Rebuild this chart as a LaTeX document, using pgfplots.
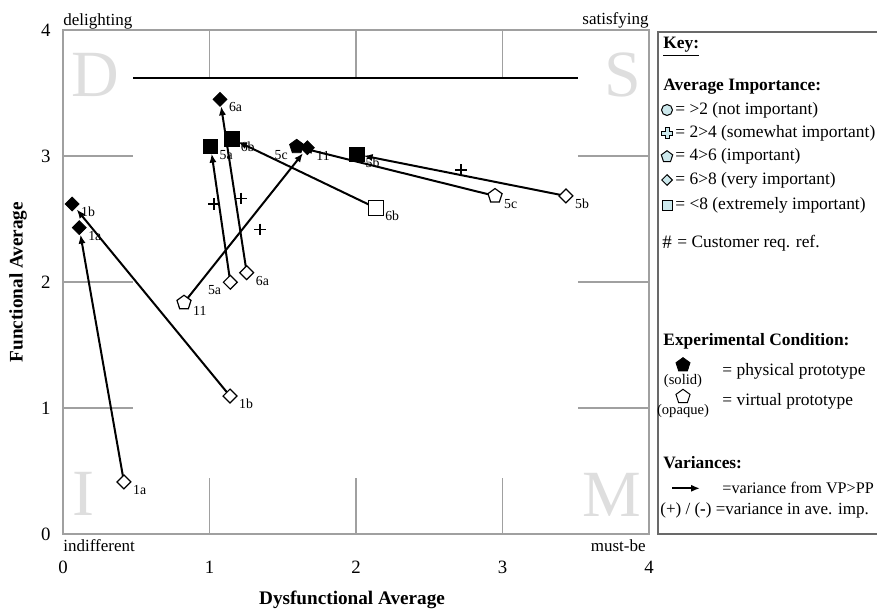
\documentclass[border=0pt]{standalone}
\usepackage{fontspec}
\setmainfont{Liberation Serif}
\usepackage{pgfplots}
\pgfplotsset{compat=1.18}
\usetikzlibrary{arrows.meta, shapes.geometric}

\definecolor{keyfill}{RGB}{204,232,236}
\definecolor{framegray}{RGB}{160,160,160}
\definecolor{keyborder}{RGB}{105,105,105}
\definecolor{bigletter}{RGB}{222,222,222}

\newcommand{\fs}[1]{\fontsize{#1pt}{#1pt}\selectfont}

\pgfplotsset{
  lblR/.style={nodes near coords, point meta=explicit symbolic,
    nodes near coords style={anchor=west, inner sep=0pt, xshift=4.3pt, yshift=-4pt, font=\fs{6.9}, text=black}},
  lblL/.style={nodes near coords, point meta=explicit symbolic,
    nodes near coords style={anchor=east, inner sep=0pt, xshift=-4.3pt, yshift=-4pt, font=\fs{6.9}, text=black}},
  arr/.style={black, line width=1pt, -{Latex[length=4.5pt,width=3.6pt]}, shorten >=3.5pt},
}

\begin{document}
\begin{tikzpicture}
\begin{axis}[
  at={(0pt,0pt)}, anchor=south west,
  scale only axis, width=293pt, height=252pt,
  xmin=0, xmax=4, ymin=0, ymax=4,
  xtick={0,1,2,3,4}, ytick={0,1,2,3,4},
  major tick length=0pt,
  axis line style={framegray, line width=0.75pt},
  tick label style={font=\fs{9.4}},
  /pgf/number format/assume math mode=true,
  xticklabel style={anchor=north, inner sep=0pt, yshift=-13.5pt},
  yticklabel style={anchor=east, inner sep=0pt, xshift=-6pt},
  clip=false,
]
% partial grid and inner top line
\draw[framegray, line width=0.6pt]
  (axis cs:1,4) -- (axis cs:1,3.619) (axis cs:2,4) -- (axis cs:2,3.619) (axis cs:3,4) -- (axis cs:3,3.619)
  (axis cs:1,0) -- (axis cs:1,0.444) (axis cs:2,0) -- (axis cs:2,0.444) (axis cs:3,0) -- (axis cs:3,0.444)
  (axis cs:0,1) -- (axis cs:0.478,1) (axis cs:0,2) -- (axis cs:0.478,2) (axis cs:0,3) -- (axis cs:0.478,3)
  (axis cs:3.515,1) -- (axis cs:4,1) (axis cs:3.515,2) -- (axis cs:4,2) (axis cs:3.515,3) -- (axis cs:4,3);
\draw[black, line width=0.75pt] (axis cs:0.478,3.619) -- (axis cs:3.515,3.619);

% quadrant letters
\node[text=bigletter, font=\fs{33}, inner sep=0pt] at (axis cs:0.218,3.643) {D};
\node[text=bigletter, font=\fs{33}, inner sep=0pt] at (axis cs:3.823,3.643) {S};
\node[text=bigletter, font=\fs{33}, inner sep=0pt] at (axis cs:0.137,0.317) {I};
\node[text=bigletter, font=\fs{33}, inner sep=0pt] at (axis cs:3.744,0.310) {M};

% corner labels
\node[anchor=base west, inner sep=0pt, font=\fs{8.5}, yshift=2.5pt] at (axis cs:0,4) {delighting};
\node[anchor=base east, inner sep=0pt, font=\fs{8.5}, yshift=3pt] at (axis cs:4,4) {satisfying};
\node[anchor=base west, inner sep=0pt, font=\fs{8.5}, yshift=-8.5pt] at (axis cs:0,0) {indifferent};
\node[anchor=base east, inner sep=0pt, font=\fs{8.5}, yshift=-8.5pt, xshift=-1.5pt] at (axis cs:4,0) {must-be};

% axis titles
\node[rotate=90, font=\fs{9.6}\bfseries] at ([xshift=-22.5pt]axis cs:0,2) {Functional Average};
\node[font=\fs{9.6}\bfseries] at ([yshift=-33pt]axis cs:1.973,0) {Dysfunctional Average};

% variance arrows: virtual prototype -> physical prototype
\addplot[arr] coordinates {(0.416,0.413) (0.111,2.431)}; % 1a
\addplot[arr] coordinates {(1.140,1.095) (0.063,2.619)}; % 1b
\addplot[arr] coordinates {(0.826,1.836) (1.668,3.066)}; % 11
\addplot[arr] coordinates {(1.142,1.998) (1.008,3.074)}; % 5a
\addplot[arr] coordinates {(1.254,2.074) (1.072,3.450)}; % 6a
\addplot[arr] coordinates {(2.137,2.587) (1.152,3.137)}; % 6b
\addplot[arr] coordinates {(2.949,2.683) (1.595,3.074)}; % 5c
\addplot[arr] coordinates {(3.433,2.683) (2.005,3.013)}; % 5b

% variance in average importance
\addplot[only marks, mark=+, mark size=2.9pt, mark options={black, line width=0.75pt}]
  coordinates {(1.031,2.619) (1.215,2.664) (1.345,2.418) (2.717,2.889)};

% virtual prototype (open)
\addplot[only marks, mark=square*, mark size=2.45pt, mark options={rotate=45, fill=white, draw=black, line width=0.6pt}, lblR]
  coordinates {(0.416,0.413)[1a] (1.140,1.095)[1b] (1.254,2.074)[6a] (3.433,2.683)[5b]};
\addplot[only marks, mark=square*, mark size=2.45pt, mark options={rotate=45, fill=white, draw=black, line width=0.6pt}, lblL]
  coordinates {(1.142,1.998)[5a]};
\addplot[only marks, mark=square*, mark size=3.6pt, mark options={fill=white, draw=black, line width=0.6pt}, lblR]
  coordinates {(2.137,2.587)[6b]};
\addplot[only marks, mark=pentagon*, mark size=3.7pt, mark options={fill=white, draw=black, line width=0.6pt}, lblR]
  coordinates {(0.826,1.836)[11] (2.949,2.683)[5c]};

% physical prototype (solid)
\addplot[only marks, mark=square*, mark size=3.6pt, mark options={fill=black, draw=black}, lblR]
  coordinates {(1.008,3.074)[5a] (1.152,3.137)[6b] (2.005,3.013)[5b]};
\addplot[only marks, mark=pentagon*, mark size=3.7pt, mark options={fill=black, draw=black}, lblL]
  coordinates {(1.595,3.074)[5c]};
\addplot[only marks, mark=square*, mark size=2.45pt, mark options={rotate=45, fill=black, draw=black}, lblR]
  coordinates {(1.072,3.450)[6a] (1.668,3.066)[11] (0.063,2.619)[1b] (0.111,2.431)[1a]};
\end{axis}

% key, in pixel coordinates of the reference
\begin{scope}[shift={(-31.5pt,267pt)}, x=0.5pt, y=-0.5pt]
  \draw[keyborder, line width=1pt] (658,32) rectangle (900,534);
  \begin{scope}[every node/.style={anchor=west, inner sep=0pt, font=\fs{8.7}}]
    \node at (663,46.7) {\underline{\textbf{Key:}}};
    \node at (663,86.7) {\textbf{Average Importance:}};
    \node at (675,110) {= >2 (not important)};
    \node at (675,133) {= 2>4 (somewhat important)};
    \node at (675,156.7) {= 4>6 (important)};
    \node at (675,180) {= 6>8 (very important)};
    \node at (675,205) {= <8 (extremely important)};
    \node[font=\fs{9.5}] at (662,242) {\#};
    \node at (677,243.3) {= Customer req. ref.};
    \node at (663,341.7) {\textbf{Experimental Condition:}};
    \node at (722,371.7) {= physical prototype};
    \node at (722,401) {= virtual prototype};
    \node at (663,462.7) {\textbf{Variances:}};
    \node[font=\fs{8.1}] at (722,488.3) {=variance from VP>PP};
    \node[font=\fs{8.5}] at (660,510) {(+) / (\textbf{-}) =variance in ave. imp.};
  \end{scope}
  \draw[black, line width=0.5pt, fill=keyfill] (667,110) circle (5.5);
  \draw[black, line width=0.5pt, fill=keyfill]
    (665,127.5) -- (669,127.5) -- (669,131) -- (672.5,131) -- (672.5,135) -- (669,135) -- (669,138.5)
    -- (665,138.5) -- (665,135) -- (661.5,135) -- (661.5,131) -- (665,131) -- cycle;
  \node[regular polygon, regular polygon sides=5, draw=black, line width=0.5pt, fill=keyfill, minimum size=6pt, inner sep=0pt] at (667,156.7) {};
  \node[diamond, draw=black, line width=0.5pt, fill=keyfill, minimum width=5.5pt, minimum height=5.5pt, inner sep=0pt] at (667,180) {};
  \node[rectangle, draw=black, line width=0.5pt, fill=keyfill, minimum size=5pt, inner sep=0pt] at (667,205) {};
  \node[font=\fs{7.3}, inner sep=0pt] at (683,381) {(solid)};
  \node[regular polygon, regular polygon sides=5, draw=black, fill=black, minimum size=7.4pt, inner sep=0pt] at (683,365) {};
  \node[font=\fs{7.3}, inner sep=0pt] at (683,411) {(opaque)};
  \node[regular polygon, regular polygon sides=5, draw=black, line width=0.5pt, fill=white, minimum size=7.4pt, inner sep=0pt] at (683,396.7) {};
  \draw[black, line width=1pt, -{Latex[length=4.5pt,width=3.6pt]}] (672,488.3) -- (700,488.3);
\end{scope}

\pgfresetboundingbox
\path (-31.5pt,-39pt) rectangle (407pt,267pt);
\end{tikzpicture}
\end{document}
